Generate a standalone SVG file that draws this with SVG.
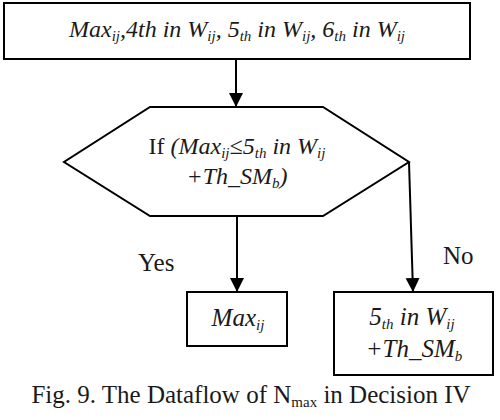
<svg xmlns="http://www.w3.org/2000/svg" width="500" height="420" viewBox="0 0 500 420">
<style>
.box{fill:#fff;stroke:#000;stroke-width:2}
.t{font-family:"Liberation Serif","Times New Roman",serif;fill:#1a1a1a}
.i{font-style:italic}
.s{font-size:15px}
.ln{stroke:#000;stroke-width:2;fill:none}
</style>
<defs>
<marker id="ah" viewBox="0 0 14 15" refX="14" refY="7" markerWidth="14" markerHeight="15" markerUnits="userSpaceOnUse" orient="auto">
<path d="M0,0 L14,7 L0,14 Z" fill="#000"/>
</marker>
</defs>
<rect width="500" height="420" fill="#fff"/>
<g id="connectors">
<line class="ln" x1="236" y1="59" x2="236" y2="107" marker-end="url(#ah)"/>
<line class="ln" x1="237" y1="216" x2="237" y2="292" marker-end="url(#ah)"/>
<polyline class="ln" points="409,162 413,292" marker-end="url(#ah)"/>
<text class="t" x="138" y="271" font-size="25">Yes</text>
<text class="t" x="443" y="264" font-size="25">No</text>
</g>
<g id="start">
<rect class="box" x="4" y="3" width="466" height="56"/>
<text class="t i" x="237" y="37" font-size="24" text-anchor="middle">Max<tspan class="s" dy="4">ij</tspan><tspan dy="-4">,4th in W</tspan><tspan class="s" dy="4">ij</tspan><tspan dy="-4">, 5</tspan><tspan class="s" dy="4">th</tspan><tspan dy="-4"> in W</tspan><tspan class="s" dy="4">ij</tspan><tspan dy="-4">, 6</tspan><tspan class="s" dy="4">th</tspan><tspan dy="-4"> in W</tspan><tspan class="s" dy="4">ij</tspan></text>
</g>
<g id="decision">
<polygon class="box" points="150,107 323,107 409,162 323,216 150,216 64,162"/>
<text class="t" x="237" y="154" font-size="24" text-anchor="middle">If <tspan class="i">(Max</tspan><tspan class="i s" dy="4">ij</tspan><tspan class="i" dy="-4">≤5</tspan><tspan class="i s" dy="4">th</tspan><tspan class="i" dy="-4"> in W</tspan><tspan class="i s" dy="4">ij</tspan></text>
<text class="t i" x="237" y="184" font-size="24" text-anchor="middle">+Th_SM<tspan class="s" dy="4">b</tspan><tspan dy="-4">)</tspan></text>
</g>
<g id="yes-result">
<rect class="box" x="187" y="292" width="100" height="54"/>
<text class="t i" x="238" y="326" font-size="25" text-anchor="middle">Max<tspan class="s" dy="4">ij</tspan></text>
</g>
<g id="no-result">
<rect class="box" x="334" y="292" width="159" height="83"/>
<text class="t i" x="412" y="325" font-size="25" text-anchor="middle">5<tspan class="s" dy="4">th</tspan><tspan dy="-4"> in W</tspan><tspan class="s" dy="4">ij</tspan></text>
<text class="t i" x="414" y="357" font-size="25" text-anchor="middle">+Th_SM<tspan class="s" dy="4">b</tspan></text>
</g>
<text class="t" x="251" y="403" font-size="25" text-anchor="middle">Fig. 9. The Dataflow of N<tspan class="s" dy="4">max</tspan><tspan dy="-4"> in Decision IV</tspan></text>
</svg>
